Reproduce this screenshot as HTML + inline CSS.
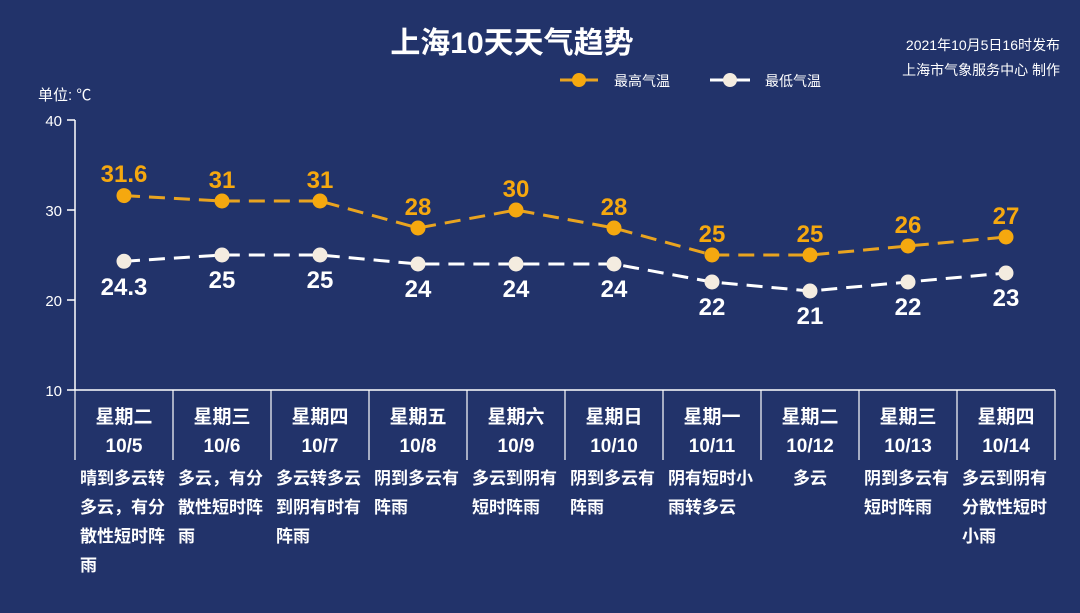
<!DOCTYPE html>
<html><head><meta charset="utf-8"><style>
html,body{margin:0;padding:0;background:#22336a;}
svg{display:block}
text{font-family:"Liberation Sans","Noto Sans CJK SC",sans-serif;}
</style></head><body>
<svg width="1080" height="613" viewBox="0 0 1080 613" xmlns="http://www.w3.org/2000/svg">
<rect width="1080" height="613" fill="#22336a"/>
<text x="512" y="53" text-anchor="middle" font-size="30" font-weight="bold" fill="#fff">上海10天天气趋势</text>
<text x="1060" y="50" text-anchor="end" font-size="14" fill="#fff">2021年10月5日16时发布</text>
<text x="1060" y="75" text-anchor="end" font-size="14" fill="#fff">上海市气象服务中心 制作</text>
<line x1="560" y1="80" x2="598" y2="80" stroke="#e9a420" stroke-width="3"/>
<circle cx="579" cy="80" r="7" fill="#f5a80f"/>
<text x="614" y="86" font-size="14" fill="#fff">最高气温</text>
<line x1="710" y1="80" x2="750" y2="80" stroke="#fff" stroke-width="3"/>
<circle cx="730" cy="80" r="7" fill="#f4ece0"/>
<text x="765" y="86" font-size="14" fill="#fff">最低气温</text>
<text x="38" y="100" font-size="15" fill="#fff">单位: ℃</text>
<g stroke="#fff" stroke-width="1.5">
<line x1="75" y1="120" x2="75" y2="390"/>
<line x1="67" y1="120" x2="75" y2="120"/>
<line x1="67" y1="210" x2="75" y2="210"/>
<line x1="67" y1="300" x2="75" y2="300"/>
<line x1="67" y1="390" x2="1055" y2="390"/>
</g>
<g font-size="15" fill="#fff" text-anchor="end">
<text x="62" y="126">40</text><text x="62" y="216">30</text><text x="62" y="306">20</text><text x="62" y="396">10</text>
</g>
<g stroke="#fff" stroke-width="1.2">
<line x1="75" y1="390" x2="75" y2="460"/><line x1="173" y1="390" x2="173" y2="460"/><line x1="271" y1="390" x2="271" y2="460"/><line x1="369" y1="390" x2="369" y2="460"/><line x1="467" y1="390" x2="467" y2="460"/><line x1="565" y1="390" x2="565" y2="460"/><line x1="663" y1="390" x2="663" y2="460"/><line x1="761" y1="390" x2="761" y2="460"/><line x1="859" y1="390" x2="859" y2="460"/><line x1="957" y1="390" x2="957" y2="460"/><line x1="1055" y1="390" x2="1055" y2="460"/>
</g>
<polyline fill="none" stroke="#e9a420" stroke-width="3" stroke-dasharray="16,9" points="124,195.6 222,201 320,201 418,228 516,210 614,228 712,255 810,255 908,246 1006,237"/>
<polyline fill="none" stroke="#fff" stroke-width="3" stroke-dasharray="16,9" points="124,261.3 222,255 320,255 418,264 516,264 614,264 712,282 810,291 908,282 1006,273"/>
<g fill="#f5a80f">
<circle cx="124" cy="195.6" r="7.5"/><circle cx="222" cy="201" r="7.5"/><circle cx="320" cy="201" r="7.5"/><circle cx="418" cy="228" r="7.5"/><circle cx="516" cy="210" r="7.5"/><circle cx="614" cy="228" r="7.5"/><circle cx="712" cy="255" r="7.5"/><circle cx="810" cy="255" r="7.5"/><circle cx="908" cy="246" r="7.5"/><circle cx="1006" cy="237" r="7.5"/>
</g>
<g fill="#f4ece0">
<circle cx="124" cy="261.3" r="7.5"/><circle cx="222" cy="255" r="7.5"/><circle cx="320" cy="255" r="7.5"/><circle cx="418" cy="264" r="7.5"/><circle cx="516" cy="264" r="7.5"/><circle cx="614" cy="264" r="7.5"/><circle cx="712" cy="282" r="7.5"/><circle cx="810" cy="291" r="7.5"/><circle cx="908" cy="282" r="7.5"/><circle cx="1006" cy="273" r="7.5"/>
</g>
<g fill="#f5a80f" font-size="24" font-weight="bold" text-anchor="middle">
<text x="124" y="182">31.6</text><text x="222" y="188">31</text><text x="320" y="188">31</text><text x="418" y="215">28</text><text x="516" y="197">30</text><text x="614" y="215">28</text><text x="712" y="242">25</text><text x="810" y="242">25</text><text x="908" y="233">26</text><text x="1006" y="224">27</text>
</g>
<g fill="#fff" font-size="24" font-weight="bold" text-anchor="middle">
<text x="124" y="295">24.3</text><text x="222" y="288">25</text><text x="320" y="288">25</text><text x="418" y="297">24</text><text x="516" y="297">24</text><text x="614" y="297">24</text><text x="712" y="315">22</text><text x="810" y="324">21</text><text x="908" y="315">22</text><text x="1006" y="306">23</text>
</g>
<g fill="#fff" font-size="19" font-weight="bold" text-anchor="middle">
<text x="124" y="423">星期二</text><text x="222" y="423">星期三</text><text x="320" y="423">星期四</text><text x="418" y="423">星期五</text><text x="516" y="423">星期六</text><text x="614" y="423">星期日</text><text x="712" y="423">星期一</text><text x="810" y="423">星期二</text><text x="908" y="423">星期三</text><text x="1006" y="423">星期四</text>
<text x="124" y="452">10/5</text><text x="222" y="452">10/6</text><text x="320" y="452">10/7</text><text x="418" y="452">10/8</text><text x="516" y="452">10/9</text><text x="614" y="452">10/10</text><text x="712" y="452">10/11</text><text x="810" y="452">10/12</text><text x="908" y="452">10/13</text><text x="1006" y="452">10/14</text>
</g>
<g fill="#fff" font-size="17" font-weight="bold">
<text x="80" y="484">晴到多云转</text><text x="80" y="513">多云，有分</text><text x="80" y="542">散性短时阵</text><text x="80" y="571">雨</text>
<text x="178" y="484">多云，有分</text><text x="178" y="513">散性短时阵</text><text x="178" y="542">雨</text>
<text x="276" y="484">多云转多云</text><text x="276" y="513">到阴有时有</text><text x="276" y="542">阵雨</text>
<text x="374" y="484">阴到多云有</text><text x="374" y="513">阵雨</text>
<text x="472" y="484">多云到阴有</text><text x="472" y="513">短时阵雨</text>
<text x="570" y="484">阴到多云有</text><text x="570" y="513">阵雨</text>
<text x="668" y="484">阴有短时小</text><text x="668" y="513">雨转多云</text>
<text x="810" y="484" text-anchor="middle">多云</text>
<text x="864" y="484">阴到多云有</text><text x="864" y="513">短时阵雨</text>
<text x="962" y="484">多云到阴有</text><text x="962" y="513">分散性短时</text><text x="962" y="542">小雨</text>
</g>
</svg>
</body></html>
